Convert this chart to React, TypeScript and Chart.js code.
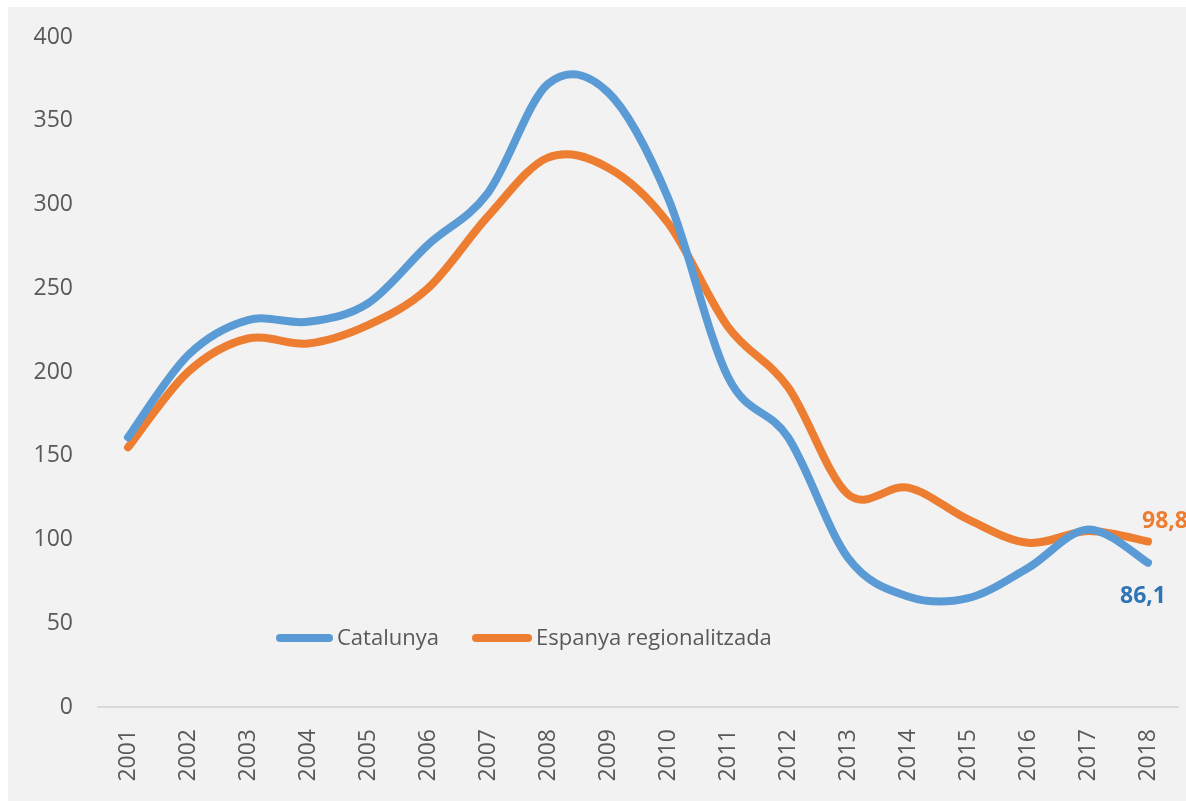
import React, { useEffect, useRef } from "react";
import { Chart, registerables } from "chart.js";

Chart.register(...registerables);

const years = ["2001","2002","2003","2004","2005","2006","2007","2008","2009","2010","2011","2012","2013","2014","2015","2016","2017","2018"];
const catalunya = [161, 210, 231, 230, 241, 276, 307, 372, 367, 304, 197, 161, 89, 66, 65, 83, 106, 86.1];
const espanya = [155, 200, 220, 217, 228, 250, 293, 328, 322, 289, 227, 191, 127, 131, 112, 98, 105, 98.8];
const seriesNames = ["Catalunya", "Espanya regionalitzada"];
const yTicks = [0, 50, 100, 150, 200, 250, 300, 350, 400];

const BLUE = "#5B9BD5";
const ORANGE = "#ED7D31";
const FONT = "'Open Sans', sans-serif";

const bgPlugin = {
  id: "bg",
  beforeDraw(chart: any) {
    const { ctx, width, height } = chart;
    ctx.save();
    ctx.fillStyle = "#F2F2F2";
    ctx.fillRect(0, 0, width, height);
    ctx.restore();
  },
};

// Excel-like smoothing: uniform Catmull-Rom control points on the scaled points
const smoothPlugin = {
  id: "excelSmooth",
  beforeDatasetDraw(chart: any, args: any) {
    const meta = chart.getDatasetMeta(args.index);
    const pts = meta.data;
    const n = pts.length;
    for (let i = 0; i < n; i++) {
      const cur = pts[i];
      const prev = pts[Math.max(0, i - 1)];
      const next = pts[Math.min(n - 1, i + 1)];
      const dx = (next.x - prev.x) / 6;
      const dy = (next.y - prev.y) / 6;
      cur.cp1x = cur.x - dx;
      cur.cp1y = cur.y - dy;
      cur.cp2x = cur.x + dx;
      cur.cp2y = cur.y + dy;
    }
    if (meta.dataset) meta.dataset._pointsUpdated = true;
  },
};

const legendPlugin = {
  id: "customLegend",
  afterDatasetsDraw(chart: any) {
    const { ctx, chartArea } = chart;
    const y = chartArea.bottom - 69;
    const items = [
      { x: 268, len: 57, color: BLUE, text: seriesNames[0] },
      { x: 464, len: 60, color: ORANGE, text: seriesNames[1] },
    ];
    ctx.save();
    ctx.font = `22px ${FONT}`;
    ctx.textBaseline = "middle";
    ctx.textAlign = "left";
    items.forEach((it) => {
      ctx.strokeStyle = it.color;
      ctx.lineWidth = 8;
      ctx.lineCap = "round";
      ctx.beginPath();
      ctx.moveTo(it.x + 4, y);
      ctx.lineTo(it.x + it.len - 4, y);
      ctx.stroke();
      ctx.fillStyle = "#595959";
      ctx.fillText(it.text, it.x + it.len + 4, y + 1);
    });
    ctx.restore();
  },
};

const endLabelPlugin = {
  id: "endLabels",
  afterDatasetsDraw(chart: any) {
    const { ctx } = chart;
    ctx.save();
    ctx.font = `bold 23px ${FONT}`;
    ctx.textBaseline = "middle";
    ctx.textAlign = "center";
    const fmt = (v: number) => v.toFixed(1).replace(".", ",");
    const m0 = chart.getDatasetMeta(0);
    const p0 = m0.data[m0.data.length - 1];
    const v0 = catalunya[catalunya.length - 1];
    ctx.fillStyle = "#2E75B6";
    ctx.fillText(fmt(v0), p0.x - 5, p0.y + 34);
    const m1 = chart.getDatasetMeta(1);
    const p1 = m1.data[m1.data.length - 1];
    const v1 = espanya[espanya.length - 1];
    ctx.fillStyle = ORANGE;
    ctx.fillText(fmt(v1), p1.x + 17, p1.y - 20);
    ctx.restore();
  },
};

export default function App() {
  const ref = useRef<HTMLCanvasElement | null>(null);

  useEffect(() => {
    if (!ref.current) return;
    const common = {
      borderWidth: 8,
      pointRadius: 0,
      tension: 0.4,
      borderCapStyle: "round",
      borderJoinStyle: "round",
    };
    const chart = new Chart(ref.current, {
      type: "line",
      data: {
        labels: years,
        datasets: [
          { label: seriesNames[0], data: catalunya, borderColor: BLUE, backgroundColor: BLUE, ...common },
          { label: seriesNames[1], data: espanya, borderColor: ORANGE, backgroundColor: ORANGE, ...common },
        ],
      },
      options: {
        animation: false,
        responsive: false,
        maintainAspectRatio: false,
        layout: { padding: { top: 30, right: 8, left: 0, bottom: 0 } },
        plugins: {
          legend: { display: false },
          tooltip: { enabled: false },
        },
        scales: {
          x: {
            offset: true,
            grid: { display: false, drawTicks: false },
            border: { display: true, color: "#D9D9D9", width: 2 },
            ticks: {
              color: "#595959",
              font: { family: FONT, size: 23 },
              minRotation: 90,
              maxRotation: 90,
              padding: 22,
              autoSkip: false,
            },
            afterFit(scale: any) {
              scale.height = 94;
              scale.paddingLeft = 0;
              scale.paddingRight = 0;
            },
          },
          y: {
            min: 0,
            max: 400,
            afterBuildTicks(scale: any) {
              scale.ticks = yTicks.map((v) => ({ value: v }));
            },
            grid: { display: false, drawTicks: false },
            border: { display: false },
            ticks: {
              color: "#595959",
              font: { family: FONT, size: 23 },
              padding: 25,
            },
            afterFit(scale: any) {
              scale.width = 90;
              scale.paddingTop = 0;
              scale.paddingBottom = 0;
            },
          },
        },
      },
      plugins: [bgPlugin, smoothPlugin, legendPlugin, endLabelPlugin],
    } as any);
    return () => chart.destroy();
  }, []);

  return (
    <div style={{ position: "fixed", left: 8, top: 7, width: 1178, height: 794 }}>
      <canvas ref={ref} width={1178} height={794} style={{ display: "block" }} />
    </div>
  );
}
